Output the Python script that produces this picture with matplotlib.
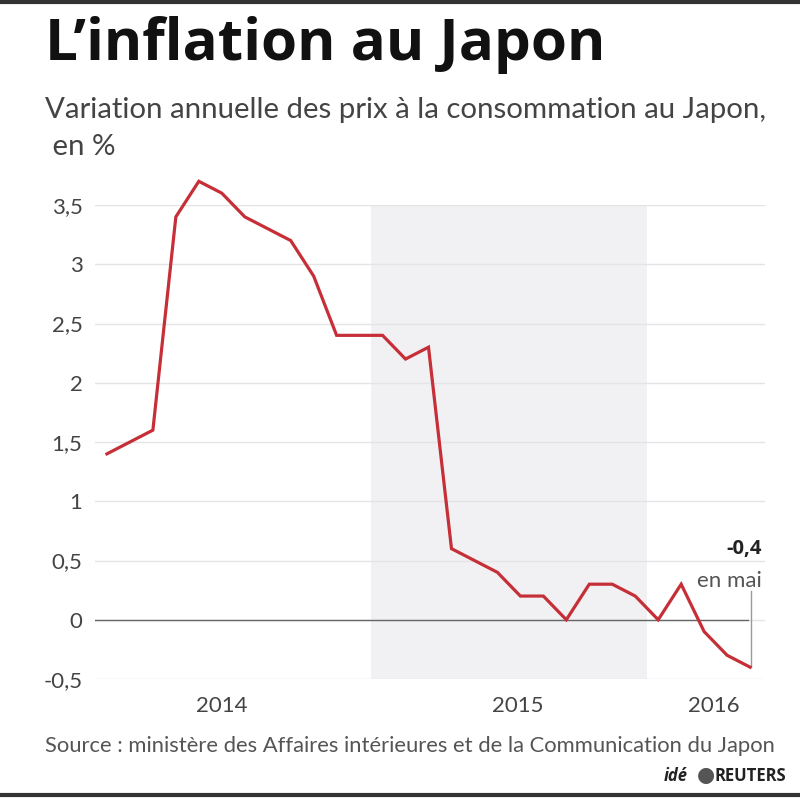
import matplotlib.pyplot as plt
from matplotlib.lines import Line2D

# CPI Japan, yearly change in %, Jan 2014 .. May 2016 (one value per month)
months = list(range(29))
inflation = [1.4, 1.5, 1.6, 3.4, 3.7, 3.6, 3.4, 3.3, 3.2, 2.9, 2.4, 2.4,
             2.4, 2.2, 2.3, 0.6, 0.5, 0.4, 0.2, 0.2, 0.0, 0.3, 0.3, 0.2,
             0.0, 0.3, -0.1, -0.3, -0.4]
year_labels = ['2014', '2015', '2016']
year_pos = [5.0, 17.9, 26.4]
yticks = [-0.5, 0, 0.5, 1, 1.5, 2, 2.5, 3, 3.5]
ytick_labels = ['-0,5', '0', '0,5', '1', '1,5', '2', '2,5', '3', '3,5']
shade_span = (11.5, 23.5)

narrow = ['Lato', 'DejaVu Sans']
plt.rcParams['font.family'] = ['Open Sans', 'DejaVu Sans']

fig = plt.figure(figsize=(8, 8), dpi=100)
ax = fig.add_axes([95/800, 1-679/800, 670/800, 474/800])

ax.axvspan(*shade_span, color='#f1f1f3', zorder=0, lw=0)
for y in yticks:
    ax.axhline(y, color='#e4e4e4', lw=1, zorder=1)
ax.plot([-0.52, 27.9], [0, 0], color='#666666', lw=1, zorder=2)

ax.plot(months, inflation, color='#c62f38', lw=2.3, zorder=3, clip_on=False,
        solid_joinstyle='miter')

# annotation of last value
ax.plot([28.05, 28.05], [-0.4, 0.24], color='#999999', lw=1, zorder=2)
ax.text(28.5, 0.6, '-0,4', ha='right', va='center', fontsize=14.5,
        fontweight='bold', color='#222222')
ax.text(28.5, 0.33, 'en mai', ha='right', va='center', fontsize=16,
        color='#555555', family=narrow)

ax.set_xlim(-0.52, 28.65)
ax.set_ylim(-0.5, 3.5)
ax.set_yticks(yticks)
ax.set_yticklabels(ytick_labels, family=narrow, fontsize=16, color='#444444')
ax.set_xticks(year_pos)
ax.set_xticklabels(year_labels, family=narrow, fontsize=16, color='#444444')
ax.tick_params(length=0, axis='y', pad=9)
ax.tick_params(length=0, axis='x', pad=12)
for s in ax.spines.values():
    s.set_visible(False)

fig.text(45/800, 1-45/800, 'L\u2019inflation au Japon', fontsize=42,
         fontweight='bold', va='center', ha='left', color='#111111')
fig.text(45/800, 1-110/800, 'Variation annuelle des prix à la consommation au Japon,',
         fontsize=21.2, va='center', ha='left', color='#444444', family=narrow)
fig.text(45/800, 1-147/800, ' en %', fontsize=21.2, va='center', ha='left',
         color='#444444', family=narrow)
fig.text(45/800, 1-746/800,
         'Source : ministère des Affaires intérieures et de la Communication du Japon',
         fontsize=15.8, va='center', ha='left', color='#555555', family=narrow)
fig.text(688/800, 1-776/800, 'idé', fontsize=12, fontweight='bold', style='italic',
         va='center', ha='right', color='#222222')
fig.text(706/800, 1-776/800, '\u25cf', fontsize=15, va='center', ha='center',
         color='#555555')
fig.text(786/800, 1-776/800, 'REUTERS', fontsize=12, fontweight='bold',
         va='center', ha='right', color='#222222')

fig.add_artist(Line2D([0, 1], [1-2/800, 1-2/800], color='#333333', lw=3))
fig.add_artist(Line2D([0, 1], [1-795/800, 1-795/800], color='#333333', lw=3))

fig.savefig('out.png', dpi=100, facecolor='white')
